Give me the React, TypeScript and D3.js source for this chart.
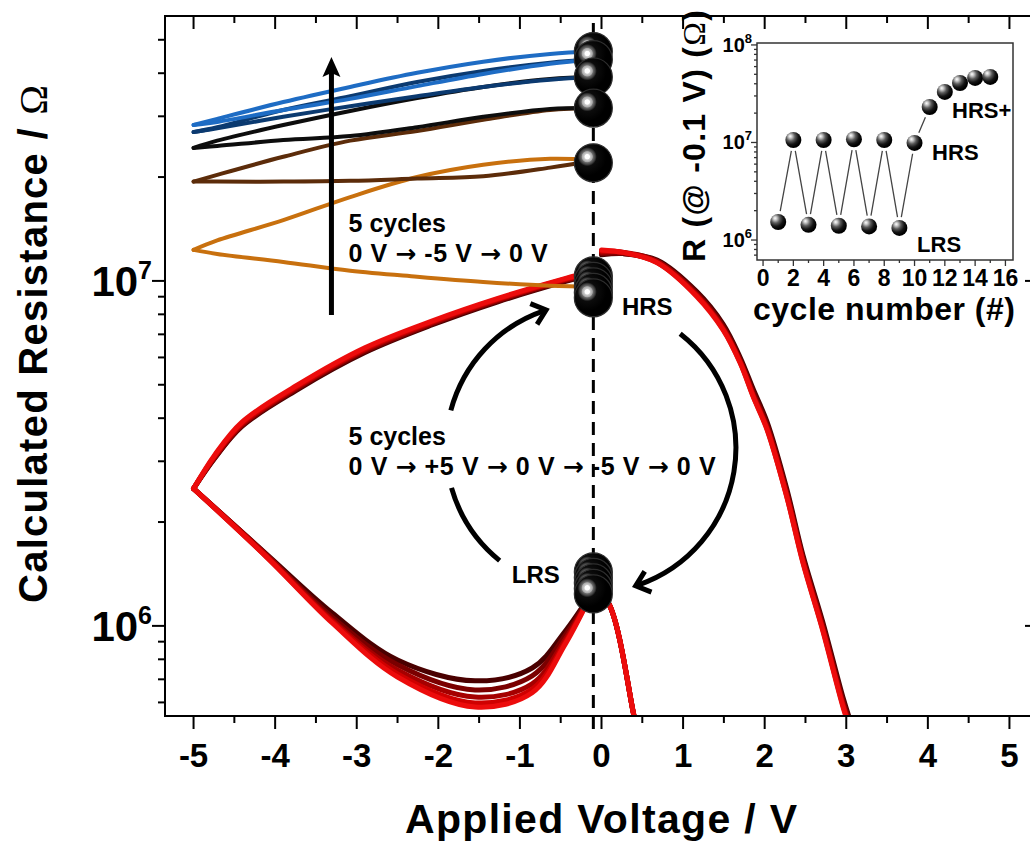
import React from 'react';
import * as d3 from 'd3';

const FONT = '"Liberation Sans", Arial, Helvetica, sans-serif';

// ---------- main plot: 0 V -> -5 V -> 0 V cycles (coloured) ----------
const readV = -0.1;
const negOutV = [-0.1, -0.63, -1.45, -2.26, -3.08, -3.9, -4.71, -5.0];
const negBackV = [-5.0, -4.71, -3.9, -3.08, -2.26, -1.45, -0.63, -0.1];
const negColors = ['#c8700e', '#5c2c0a', '#0d0d0d', '#0b3a70', '#1e6cc4'];
const negOutR = [
  [9.61e6, 9.68e6, 9.93e6, 1.028e7, 1.07e7, 1.135e7, 1.197e7, 1.23e7],
  [2.23e7, 2.13e7, 2.01e7, 1.98e7, 1.95e7, 1.94e7, 1.94e7, 1.94e7],
  [3.17e7, 3.15e7, 2.99e7, 2.79e7, 2.63e7, 2.56e7, 2.46e7, 2.43e7],
  [3.9e7, 3.83e7, 3.65e7, 3.43e7, 3.21e7, 2.99e7, 2.77e7, 2.7e7],
  [4.38e7, 4.26e7, 3.98e7, 3.67e7, 3.37e7, 3.13e7, 2.89e7, 2.83e7],
];
const negBackR = [
  [1.23e7, 1.31e7, 1.5e7, 1.75e7, 2.0e7, 2.17e7, 2.26e7, 2.24e7],
  [1.94e7, 2.03e7, 2.29e7, 2.55e7, 2.72e7, 2.93e7, 3.13e7, 3.17e7],
  [2.43e7, 2.55e7, 2.83e7, 3.11e7, 3.39e7, 3.65e7, 3.85e7, 3.9e7],
  [2.7e7, 2.79e7, 3.13e7, 3.43e7, 3.77e7, 4.06e7, 4.29e7, 4.38e7],
  [2.83e7, 2.95e7, 3.3e7, 3.65e7, 4.01e7, 4.32e7, 4.55e7, 4.62e7],
];

// ---------- main plot: 0 V -> +5 V -> 0 V -> -5 V -> 0 V cycles (reds) ----------
const redColors = ['#4a0000', '#7a0000', '#a50000', '#cf0000', '#ec0c0c'];
const posRightV = [0.0, 0.26, 0.68, 1.17, 1.49, 1.7, 1.86, 2.03, 2.27, 2.47, 2.71, 2.96, 3.05];
const posRightR = [
  [1.19e7, 1.2e7, 1.15e7, 9.3e6, 7.5e6, 6.0e6, 4.85e6, 3.9e6, 2.5e6, 1.6e6, 1.03e6, 6.2e5, 5.3e5],
  [1.2e7, 1.2e7, 1.14e7, 9.2e6, 7.4e6, 5.9e6, 4.75e6, 3.82e6, 2.45e6, 1.57e6, 1.01e6, 6.05e5, 5.2e5],
  [1.21e7, 1.21e7, 1.14e7, 9.1e6, 7.3e6, 5.85e6, 4.68e6, 3.76e6, 2.41e6, 1.55e6, 9.9e5, 5.95e5, 5.1e5],
  [1.22e7, 1.21e7, 1.13e7, 9.05e6, 7.25e6, 5.8e6, 4.63e6, 3.72e6, 2.38e6, 1.53e6, 9.8e5, 5.88e5, 5.05e5],
  [1.23e7, 1.21e7, 1.13e7, 9.0e6, 7.21e6, 5.78e6, 4.61e6, 3.7e6, 2.37e6, 1.52e6, 9.73e5, 5.82e5, 5.0e5],
];
const posReturnV = [0.45, 0.39, 0.08, -0.1];
const posReturnR = [4.7e5, 5.6e5, 1.17e6, 1.27e6];
const posNegOutV = [-0.1, -0.45, -0.85, -1.55, -2.5, -3.3, -4.1, -5.0];
const posNegOutR = [
  [1.27e6, 9.62e5, 7.55e5, 6.93e5, 7.96e5, 1.09e6, 1.61e6, 2.5e6],
  [1.27e6, 9.35e5, 7.16e5, 6.52e5, 7.71e5, 1.06e6, 1.6e6, 2.5e6],
  [1.27e6, 9.1e5, 6.79e5, 6.22e5, 7.45e5, 1.04e6, 1.6e6, 2.5e6],
  [1.27e6, 8.93e5, 6.56e5, 5.98e5, 7.26e5, 1.03e6, 1.58e6, 2.5e6],
  [1.27e6, 8.81e5, 6.4e5, 5.82e5, 7.11e5, 1.02e6, 1.58e6, 2.5e6],
];
const posNegBackV = [-5.0, -4.74, -4.41, -3.72, -2.9, -2.08, -1.27, -0.45, -0.28];
const posNegBackR = [
  [2.5e6, 3.06e6, 3.78e6, 4.85e6, 6.2e6, 7.45e6, 8.7e6, 9.95e6, 1.02e7],
  [2.5e6, 3.07e6, 3.8e6, 4.89e6, 6.25e6, 7.5e6, 8.75e6, 1.0e7, 1.025e7],
  [2.5e6, 3.09e6, 3.83e6, 4.93e6, 6.31e6, 7.55e6, 8.81e6, 1.007e7, 1.03e7],
  [2.5e6, 3.11e6, 3.86e6, 4.96e6, 6.35e6, 7.6e6, 8.85e6, 1.011e7, 1.035e7],
  [2.5e6, 3.13e6, 3.89e6, 5.0e6, 6.4e6, 7.65e6, 8.9e6, 1.015e7, 1.04e7],
];

// resistance read at -0.1 V (spheres)
const hrsR = [1.034e7, 9.97e6, 9.61e6, 9.26e6, 8.93e6];
const lrsR = [1.434e6, 1.382e6, 1.332e6, 1.284e6, 1.238e6];
const negEndR = [2.2e7, 3.17e7, 3.9e7, 4.38e7, 4.62e7];

// ---------- inset ----------
const cycleNo = [1, 2, 3, 4, 5, 6, 7, 8, 9, 10, 11, 12, 13, 14, 15];
const cycleR = [1.53e6, 1.06e7, 1.43e6, 1.06e7, 1.4e6, 1.08e7, 1.38e6, 1.06e7, 1.33e6, 9.9e6, 2.31e7, 3.3e7, 4.07e7, 4.59e7, 4.7e7];
const insetXTicks = [0, 2, 4, 6, 8, 10, 12, 14, 16];

type P = [number, number];
const zip = (vs: number[], rs: number[]): P[] => vs.map((v, i) => [v, rs[i]]);

// arrows in the notes are drawn with a wider glyph
const withArrows = (s: string) =>
  s.split('→').flatMap((part, i) =>
    i === 0
      ? [part]
      : [
          <tspan key={i} fontFamily="DejaVu Sans" fontWeight={700}>
            →
          </tspan>,
          part,
        ]
  );

export default function App() {
  const x = d3.scaleLinear().domain([-5.35, 5.35]).range([165, 1038]);
  const y = d3.scaleLog().domain([5.48e5, 5.86e7]).range([716, 16]);
  const line = d3
    .line<P>()
    .x((d) => x(d[0]))
    .y((d) => y(d[1]))
    .curve(d3.curveCatmullRom.alpha(0.5));

  const [x0, x1] = x.range();
  const [yb, yt] = y.range();

  const xMajor = d3.range(-5, 5.01, 1);
  const xMinor = d3.range(-4.5, 4.51, 1);
  const yTicks = y.ticks();
  const isMajor = (v: number) => Math.abs(Math.log10(v) - Math.round(Math.log10(v))) < 1e-6;

  // inset scales
  const xi = d3.scaleLinear().domain([-0.4, 16.5]).range([757, 1013]);
  const yi = d3.scaleLog().domain([6.24e5, 1.047e8]).range([260, 43]);
  const yiTicks = yi.ticks();

  // arc arrows around the HRS/LRS states
  const cx = x(-0.13);
  const cy = y(3.28e6);
  const rr = 145;
  const rad = (a: number) => (a * Math.PI) / 180;
  const pt = (a: number) => [cx + rr * Math.cos(rad(a)), cy + rr * Math.sin(rad(a))];
  const arc = (a0: number, a1: number) => {
    const p0 = pt(a0);
    const p1 = pt(a1);
    return `M${p0[0]},${p0[1]} A${rr},${rr} 0 0 1 ${p1[0]},${p1[1]}`;
  };
  const head = (a: number) => {
    const [px, py] = pt(a);
    const t = [-Math.sin(rad(a)), Math.cos(rad(a))];
    const n = [Math.cos(rad(a)), Math.sin(rad(a))];
    const L = 17;
    const ph = rad(40);
    const q1 = [px + L * (-t[0] * Math.cos(ph) + n[0] * Math.sin(ph)), py + L * (-t[1] * Math.cos(ph) + n[1] * Math.sin(ph))];
    const q2 = [px + L * (-t[0] * Math.cos(ph) - n[0] * Math.sin(ph)), py + L * (-t[1] * Math.cos(ph) - n[1] * Math.sin(ph))];
    return `M${q1[0]},${q1[1]} L${px},${py} L${q2[0]},${q2[1]}`;
  };

  const arrowX = x(-3.31);
  const arrowTop = y(4.46e7);
  const arrowBot = y(7.96e6);

  const sphere = (v: number, r: number, key: string) => (
    <circle key={key} cx={x(v)} cy={y(r)} r={19} fill="url(#ball)" stroke="#2e2e2e" strokeWidth={1.2} />
  );
  const stack = (vals: number[], k: string) =>
    [...vals].sort((a, b) => b - a).map((r, i) => sphere(readV, r, `${k}${i}`));

  // inset connecting segments with gaps around symbols
  const segs: string[] = [];
  for (let i = 0; i < cycleNo.length - 1; i++) {
    const ax = xi(cycleNo[i]), ay = yi(cycleR[i]);
    const bx = xi(cycleNo[i + 1]), by = yi(cycleR[i + 1]);
    const len = Math.hypot(bx - ax, by - ay);
    const g = 11;
    if (len > 2 * g + 2) {
      const ux = (bx - ax) / len, uy = (by - ay) / len;
      segs.push(`M${ax + ux * g},${ay + uy * g} L${bx - ux * g},${by - uy * g}`);
    }
  }

  const bold = { fontFamily: FONT, fontWeight: 700 as const };
  const omega = (
    <tspan fontFamily='"Liberation Serif", "DejaVu Serif", serif' fontWeight={400}>
      Ω
    </tspan>
  );

  return (
    <svg width={1030} height={844} viewBox="0 0 1030 844" style={{ display: 'block', background: '#fff' }}>
      <style>{'body{margin:0}'}</style>
      <defs>
        <clipPath id="plotClip">
          <rect x={x0} y={yt} width={x1 - x0} height={yb - yt} />
        </clipPath>
        <radialGradient id="ball" cx="0.34" cy="0.34" r="0.5" fx="0.34" fy="0.34">
          <stop offset="0" stopColor="#ffffff" />
          <stop offset="0.12" stopColor="#ffffff" />
          <stop offset="0.16" stopColor="#cfcfcf" />
          <stop offset="0.27" stopColor="#a8a8a8" />
          <stop offset="0.31" stopColor="#6c6c6c" />
          <stop offset="0.42" stopColor="#3c3c3c" />
          <stop offset="0.5" stopColor="#0c0c0c" />
          <stop offset="1" stopColor="#000000" />
        </radialGradient>
        <radialGradient id="ballSmall" cx="0.36" cy="0.32" r="0.62" fx="0.3" fy="0.26">
          <stop offset="0" stopColor="#ffffff" />
          <stop offset="0.18" stopColor="#c8c8c8" />
          <stop offset="0.45" stopColor="#5a5a5a" />
          <stop offset="0.75" stopColor="#151515" />
          <stop offset="1" stopColor="#000000" />
        </radialGradient>
      </defs>

      {/* dashed reading line at -0.1 V */}
      <line x1={x(readV)} x2={x(readV)} y1={yt + 7} y2={yb + 21} stroke="#000" strokeWidth={3} strokeDasharray="13,8" />

      <g clipPath="url(#plotClip)" fill="none" strokeLinejoin="round" strokeLinecap="round">
        {redColors.map((c, i) => (
          <g key={`red${i}`} stroke={c} strokeWidth={5}>
            <path d={line(zip(posRightV, posRightR[i])) || ''} />
            <path d={line(zip(posReturnV, posReturnR)) || ''} />
            <path d={line(zip(posNegOutV, posNegOutR[i])) || ''} />
            <path d={line(zip(posNegBackV, posNegBackR[i])) || ''} />
          </g>
        ))}
        {negColors.map((c, i) => (
          <g key={`neg${i}`} stroke={c} strokeWidth={4}>
            <path d={line(zip(negOutV, negOutR[i])) || ''} />
            <path d={line(zip(negBackV, negBackR[i])) || ''} />
          </g>
        ))}
      </g>

      {/* state spheres */}
      {stack(negEndR, 'n')}
      {stack(hrsR, 'h')}
      {stack(lrsR, 'l')}

      {/* vertical arrow */}
      <line x1={arrowX} x2={arrowX} y1={arrowBot} y2={arrowTop + 16} stroke="#000" strokeWidth={5} />
      <path
        d={`M${arrowX},${arrowTop} L${arrowX + 9},${arrowTop + 20} L${arrowX},${arrowTop + 16} L${arrowX - 9},${arrowTop + 20} Z`}
        fill="#000"
      />

      {/* cycle arrows */}
      <g fill="none" stroke="#000" strokeWidth={5}>
        <path d={arc(-165, -109)} />
        <path d={head(-108)} strokeLinejoin="miter" />
        <path d={arc(-52, 71)} />
        <path d={head(72)} strokeLinejoin="miter" />
        <path d={arc(129, 164)} />
      </g>

      {/* annotations */}
      <g {...bold} fontSize={25} fill="#000">
        <text x={x(-3.1)} y={y(1.387e7)}>5 cycles</text>
        <text x={x(-3.1)} y={y(1.135e7)} textLength={199}>
          {withArrows('0 V → -5 V → 0 V')}
        </text>
        <text x={x(0.25)} y={y(7.96e6)} fontSize={24}>HRS</text>
        <text x={x(-1.1)} y={y(1.33e6)} fontSize={24}>LRS</text>
        <text x={x(-3.1)} y={y(3.35e6)}>5 cycles</text>
        <text x={x(-3.1)} y={y(2.74e6)} textLength={367}>
          {withArrows('0 V → +5 V → 0 V → -5 V → 0 V')}
        </text>
      </g>

      {/* main axes frame */}
      <rect x={x0} y={yt} width={x1 - x0} height={yb - yt} fill="none" stroke="#000" strokeWidth={2} />
      <g stroke="#000" strokeWidth={2}>
        {xMajor.map((v) => (
          <g key={`xm${v}`}>
            <line x1={x(v)} x2={x(v)} y1={yb} y2={yb + 13} />
            <line x1={x(v)} x2={x(v)} y1={yt} y2={yt + 13} />
          </g>
        ))}
        {xMinor.map((v) => (
          <g key={`xn${v}`}>
            <line x1={x(v)} x2={x(v)} y1={yb} y2={yb + 7} />
            <line x1={x(v)} x2={x(v)} y1={yt} y2={yt + 7} />
          </g>
        ))}
        {yTicks.map((v) => {
          const L = isMajor(v) ? 13 : 7;
          return (
            <g key={`y${v}`}>
              <line x1={x0 - L} x2={x0} y1={y(v)} y2={y(v)} />
              <line x1={x1 - L} x2={x1} y1={y(v)} y2={y(v)} />
            </g>
          );
        })}
      </g>
      <g {...bold} fill="#000">
        {xMajor.map((v) => (
          <text key={`xl${v}`} x={x(v)} y={767} fontSize={33} textAnchor="middle">
            {v < 0 ? `-${Math.abs(v)}` : `${v}`}
          </text>
        ))}
        {yTicks.filter(isMajor).map((v) => (
          <text key={`yl${v}`} x={152} y={y(v) + 15} fontSize={42} textAnchor="end">
            10
            <tspan fontSize={25} dy={-17}>
              {Math.round(Math.log10(v))}
            </tspan>
          </text>
        ))}
        <text x={601} y={833} fontSize={41} textAnchor="middle" textLength={392}>
          Applied Voltage / V
        </text>
        <text transform="translate(47,344) rotate(-90)" fontSize={40} textAnchor="middle" textLength={518}>
          Calculated Resistance / {omega}
        </text>
      </g>

      {/* inset */}
      <rect x={757} y={43} width={256} height={217} fill="#fff" stroke="#333" strokeWidth={1.5} />
      <g stroke="#333" strokeWidth={1.3}>
        {d3.range(0, 16.1, 1).map((c) => (
          <line key={`ixt${c}`} x1={xi(c)} x2={xi(c)} y1={260} y2={260 + (c % 2 === 0 ? 6 : 3)} />
        ))}
        {yiTicks.map((v) => (
          <line key={`iyt${v}`} x1={757 - (isMajor(v) ? 6 : 3)} x2={757} y1={yi(v)} y2={yi(v)} />
        ))}
      </g>
      <path d={segs.join(' ')} stroke="#444" strokeWidth={1.3} fill="none" />
      {cycleNo.map((c, i) => (
        <circle key={`ip${c}`} cx={xi(c)} cy={yi(cycleR[i])} r={8} fill="url(#ballSmall)" />
      ))}
      <g {...bold} fill="#000">
        {insetXTicks.map((c) => (
          <text key={`ixl${c}`} x={xi(c)} y={286} fontSize={23} textAnchor="middle">
            {c}
          </text>
        ))}
        {yiTicks.filter(isMajor).map((v) => (
          <text key={`iyl${v}`} x={752} y={yi(v) + 7} fontSize={20} textAnchor="end">
            10
            <tspan fontSize={13} dy={-9}>
              {Math.round(Math.log10(v))}
            </tspan>
          </text>
        ))}
        <text x={xi(12.48)} y={yi(1.78e7)} fontSize={22}>HRS+</text>
        <text x={xi(11.16)} y={yi(6.6e6)} fontSize={22}>HRS</text>
        <text x={xi(10.17)} y={yi(7.5e5)} fontSize={22}>LRS</text>
        <text x={884} y={320} fontSize={32} textAnchor="middle" textLength={262}>
          cycle number (#)
        </text>
        <text transform="translate(705,136) rotate(-90)" fontSize={32} textAnchor="middle" textLength={252}>
          R (@ -0.1 V) ({omega})
        </text>
      </g>
    </svg>
  );
}
